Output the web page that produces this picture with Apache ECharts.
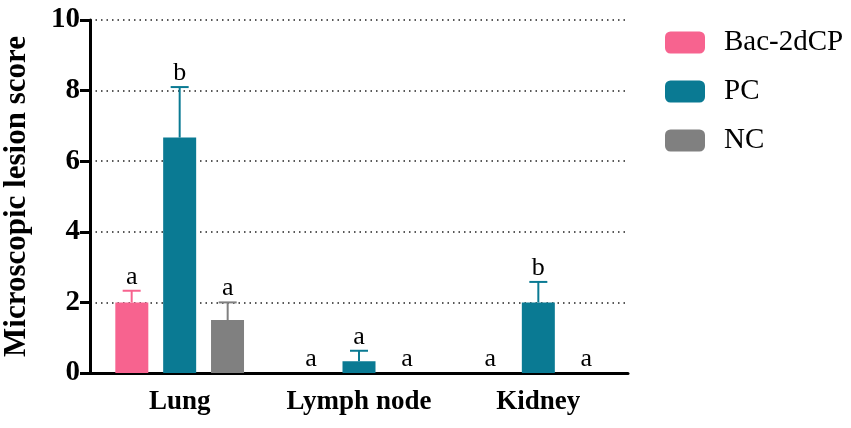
<!DOCTYPE html>
<html>
<head>
<meta charset="utf-8">
<script src="https://cdn.jsdelivr.net/npm/echarts@6/dist/echarts.min.js"></script>
<style>
  html, body { margin: 0; padding: 0; background: #fff; }
  #chart { width: 851px; height: 428px; }
</style>
</head>
<body>
<div id="chart"></div>
<script>
// ── Data ─────────────────────────────────────────────────────────────────────
const categories = ['Lung', 'Lymph node', 'Kidney'];
const groups     = ['Bac-2dCP', 'PC', 'NC'];

const bacMean = [2.0, 0, 0];
const bacErr  = [0.33, 0, 0];
const pcMean  = [6.67, 0.33, 2.0];
const pcErr   = [1.43, 0.3, 0.58];
const ncMean  = [1.5, 0, 0];
const ncErr   = [0.5, 0, 0];

const bacLetters = ['a', 'a', 'a'];
const pcLetters  = ['b', 'a', 'b'];
const ncLetters  = ['a', 'a', 'a'];

const yTicks = [0, 2, 4, 6, 8, 10];

// ── Style ────────────────────────────────────────────────────────────────────
const colors = ['#f7638f', '#0a7a93', '#808080'];
const SERIF  = '"Liberation Serif", "Times New Roman", serif';
const BAR_W  = 33;
const STEP   = 48;   // distance between bar centres within a group

const chart = echarts.init(document.getElementById('chart'), null, { renderer: 'canvas' });

function errSeries(idx, means, errs, letters) {
  const offset = (idx - 1) * STEP;
  return {
    type: 'custom',
    name: groups[idx] + ' err',
    z: 5,
    data: means.map((m, i) => [i, m, errs[i]]),
    renderItem: (params, api) => {
      const i = api.value(0), m = api.value(1), e = api.value(2);
      const base = api.coord([i, m]);
      const top  = api.coord([i, m + e]);
      const x = base[0] + offset;
      const kids = [];
      if (e > 0) {
        kids.push({
          type: 'line',
          shape: { x1: x, y1: base[1], x2: x, y2: top[1] },
          style: { stroke: colors[idx], lineWidth: 2 },
        });
        kids.push({
          type: 'line',
          shape: { x1: x - 9, y1: top[1], x2: x + 9, y2: top[1] },
          style: { stroke: colors[idx], lineWidth: 2 },
        });
      }
      kids.push({
        type: 'text',
        style: {
          x: x, y: top[1] - 1,
          text: letters[params.dataIndex],
          align: 'center', verticalAlign: 'bottom',
          font: '26px ' + SERIF, fill: '#000',
        },
      });
      return { type: 'group', children: kids };
    },
  };
}

chart.setOption({
  backgroundColor: '#fff',
  animation: false,
  grid: { left: 90, right: 223, top: 20, bottom: 55, containLabel: false, outerBoundsMode: 'none' },
  legend: {
    data: groups,
    orient: 'vertical',
    left: 660, top: 23,
    itemWidth: 40, itemHeight: 22, itemGap: 20,
    icon: 'roundRect',
    textStyle: { fontFamily: SERIF, fontSize: 29, color: '#000', padding: [0, 0, 0, 14] },
  },
  xAxis: {
    type: 'category',
    data: categories,
    axisLine: { lineStyle: { color: '#000', width: 3 } },
    axisTick: { alignWithLabel: true, length: 10, lineStyle: { color: '#000', width: 3 } },
    axisLabel: {
      color: '#000', fontFamily: SERIF, fontWeight: 'bold', fontSize: 27, margin: 16,
      interval: 0, hideOverlap: false,
    },
  },
  yAxis: {
    type: 'value',
    min: yTicks[0], max: yTicks[yTicks.length - 1], interval: 2,
    name: 'Microscopic lesion score',
    nameLocation: 'middle',
    nameGap: 58,
    nameTextStyle: { color: '#000', fontFamily: SERIF, fontWeight: 'bold', fontSize: 31 },
    axisLine: { show: true, lineStyle: { color: '#000', width: 3 } },
    axisTick: { show: true, length: 10, lineStyle: { color: '#000', width: 3 } },
    axisLabel: { color: '#000', fontFamily: SERIF, fontWeight: 'bold', fontSize: 29, margin: 10 },
    splitLine: { show: true, lineStyle: { color: '#222', width: 1.5, type: [1.5, 4] } },
  },
  series: [
    { type: 'bar', name: groups[0], data: bacMean, barWidth: BAR_W, barGap: '45%', itemStyle: { color: colors[0] } },
    { type: 'bar', name: groups[1], data: pcMean,  barWidth: BAR_W, barGap: '45%', itemStyle: { color: colors[1] } },
    { type: 'bar', name: groups[2], data: ncMean,  barWidth: BAR_W, barGap: '45%', itemStyle: { color: colors[2] } },
    errSeries(0, bacMean, bacErr, bacLetters),
    errSeries(1, pcMean,  pcErr,  pcLetters),
    errSeries(2, ncMean,  ncErr,  ncLetters),
  ],
});
</script>
</body>
</html>
